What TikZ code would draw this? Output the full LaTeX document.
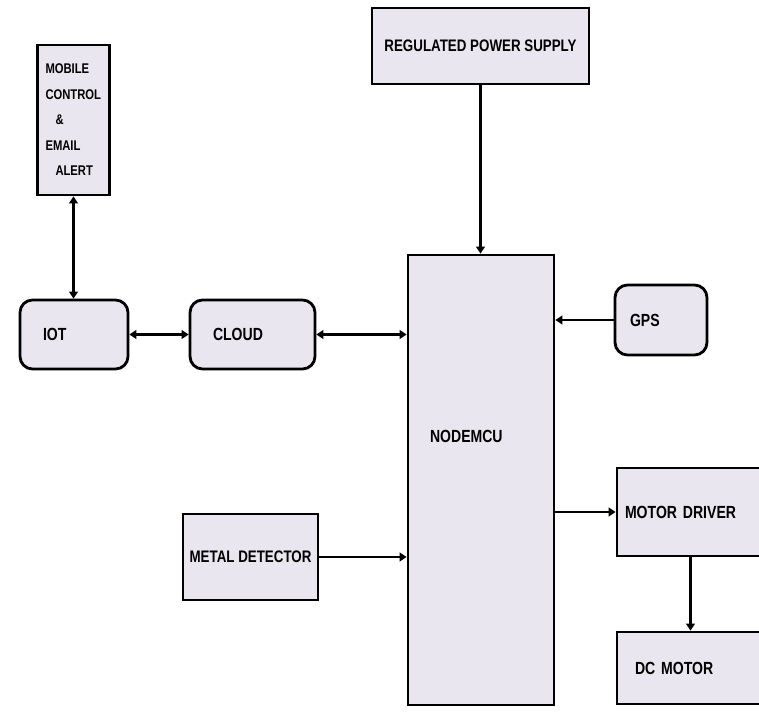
\documentclass[tikz,border=0pt]{standalone}
\usepackage{fontspec}
\setmainfont{Liberation Sans}[FakeStretch=0.8]
\usetikzlibrary{arrows.meta}
\definecolor{boxfill}{RGB}{234,230,240}

\begin{document}
\begin{tikzpicture}[
        x=0.02cm, y=-0.02cm,
        blk/.style={rectangle, draw=black, fill=boxfill, line width=1.6pt, font=\fontsize{10}{12}\selectfont\bfseries, align=left, inner ysep=0pt},
        rblk/.style={blk, rounded corners=0.25cm},
        link/.style={draw, line width=1.6pt, -{Triangle[length=4pt,width=5pt]}},
        dlink/.style={draw, line width=1.6pt, {Triangle[length=4pt,width=5pt]}-{Triangle[length=4pt,width=5pt]}}
    ]
    \useasboundingbox[fill=white] (0,0) rectangle (759,719);

    % blocks
    \node[blk, minimum height=3cm, text width=1.12cm, inner xsep=0.16cm,
          font=\fontsize{8}{14.5}\selectfont\bfseries] (mob) at (73.5,120)
        {MOBILE\\CONTROL\\\hspace*{0.2cm}\&\\EMAIL\\\hspace*{0.2cm}ALERT};
    \node[blk, minimum height=1.52cm, minimum width=4.34cm, align=center,
          font=\fontsize{9.5}{11}\selectfont\bfseries] (reg) at (480.5,46)
        {REGULATED POWER SUPPLY};
    \node[rblk, minimum height=1.38cm, text width=1.24cm, inner xsep=0.46cm] (iot) at (74,334.5) {IOT};
    \node[rblk, minimum height=1.38cm, text width=1.58cm, inner xsep=0.46cm] (cloud) at (252.5,334.5) {CLOUD};
    \node[rblk, minimum height=1.4cm, text width=1.24cm, inner xsep=0.3cm] (gps) at (661,320) {GPS};
    \node[blk, minimum height=9cm, text width=2.04cm, inner xsep=0.44cm, text depth=1.75cm] (mcu) at (481,480) {NODEMCU};
    \node[blk, minimum height=1.76cm, text width=2.62cm, inner xsep=0.16cm] (drv) at (690.5,512) {MOTOR DRIVER};
    \node[blk, minimum height=1.44cm, text width=2.22cm, inner xsep=0.36cm] (dc) at (690.5,668) {DC MOTOR};
    \node[blk, minimum height=1.72cm, minimum width=2.7cm, align=center,
          font=\fontsize{9.5}{11}\selectfont\bfseries] (det) at (250.5,557) {METAL DETECTOR};

    % connections
    \path[dlink] (mob.south) -- (mob.south |- iot.north);
    \path[dlink] (iot.east) -- (cloud.west);
    \path[dlink] (cloud.east) -- (cloud.east -| mcu.west);
    \path[link] (reg.south) -- (reg.south |- mcu.north);
    \path[link] (gps.west) -- (gps.west -| mcu.east);
    \path[link] (mcu.east |- drv.west) -- (drv.west);
    \path[link] (drv.south) -- (dc.north);
    \path[link] (det.east) -- (det.east -| mcu.west);
\end{tikzpicture}
\end{document}
